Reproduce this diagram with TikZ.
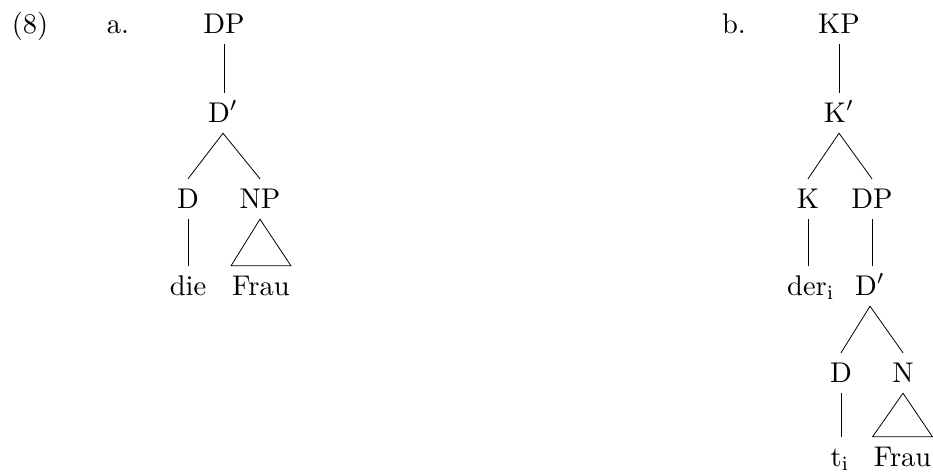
\documentclass[tikz,border=0pt]{standalone}
\usepackage{graphicx}
\newcommand\sbx[1]{\scalebox{2.85}{\fontsize{10}{12}\selectfont #1}}
\begin{document}
\begin{tikzpicture}[x=1pt,y=-1pt,
  lbl/.style={anchor=base,inner sep=0pt},
  tn/.style={anchor=base,inner xsep=1pt,inner ysep=10pt,text height=19pt,text depth=1pt},
  edge/.style={line width=0.8pt}]
\useasboundingbox (0,0) rectangle (933,475);
% labels
\node[lbl] (ex) at (30,33) {\sbx{(8)}};
\node[lbl] (la) at (118,33) {\sbx{a.}};
\node[lbl] (lb) at (734,33) {\sbx{b.}};
% tree a
\node[tn] (DPa) at (224,33) {\sbx{DP}};
\node[tn] (Dba) at (223,122) {\sbx{D$'$}};
\node[tn] (Da) at (188,208) {\sbx{D}};
\node[tn] (NPa) at (260,208) {\sbx{NP}};
\node[tn] (die) at (188,295) {\sbx{die}};
\node[tn] (Fra) at (261,295) {\sbx{Frau}};
\draw[edge] (DPa.south) -- (DPa.south |- Dba.north);
\draw[edge] (Dba.south) -- (Da.north);
\draw[edge] (Dba.south) -- (NPa.north);
\draw[edge] (Da.south) -- (Da.south |- die.north);
\draw[edge] (NPa.south) -- (Fra.north west) -- (Fra.north east) -- cycle;
% tree b
\node[tn] (KP) at (839,33) {\sbx{KP}};
\node[tn] (Kb) at (839,122) {\sbx{K$'$}};
\node[tn] (K) at (808,208) {\sbx{K}};
\node[tn] (DPb) at (872,208) {\sbx{DP}};
\node[tn] (der) at (811,295) {\sbx{der$_{\mathrm{i}}$}};
\node[tn] (Dbb) at (870,295) {\sbx{D$'$}};
\node[tn] (Db) at (841,382) {\sbx{D}};
\node[tn] (N) at (903,382) {\sbx{N}};
\node[tn] (t) at (840,466) {\sbx{t$_{\mathrm{i}}$}};
\node[tn] (Frb) at (902.5,466) {\sbx{Frau}};
\draw[edge] (KP.south) -- (KP.south |- Kb.north);
\draw[edge] (Kb.south) -- (K.north);
\draw[edge] (Kb.south) -- (DPb.north);
\draw[edge] (K.south) -- (K.south |- der.north);
\draw[edge] (DPb.south) -- (DPb.south |- Dbb.north);
\draw[edge] (Dbb.south) -- (Db.north);
\draw[edge] (Dbb.south) -- (N.north);
\draw[edge] (Db.south) -- (Db.south |- t.north);
\draw[edge] (N.south) -- (Frb.north west) -- (Frb.north east) -- cycle;
\end{tikzpicture}
\end{document}
